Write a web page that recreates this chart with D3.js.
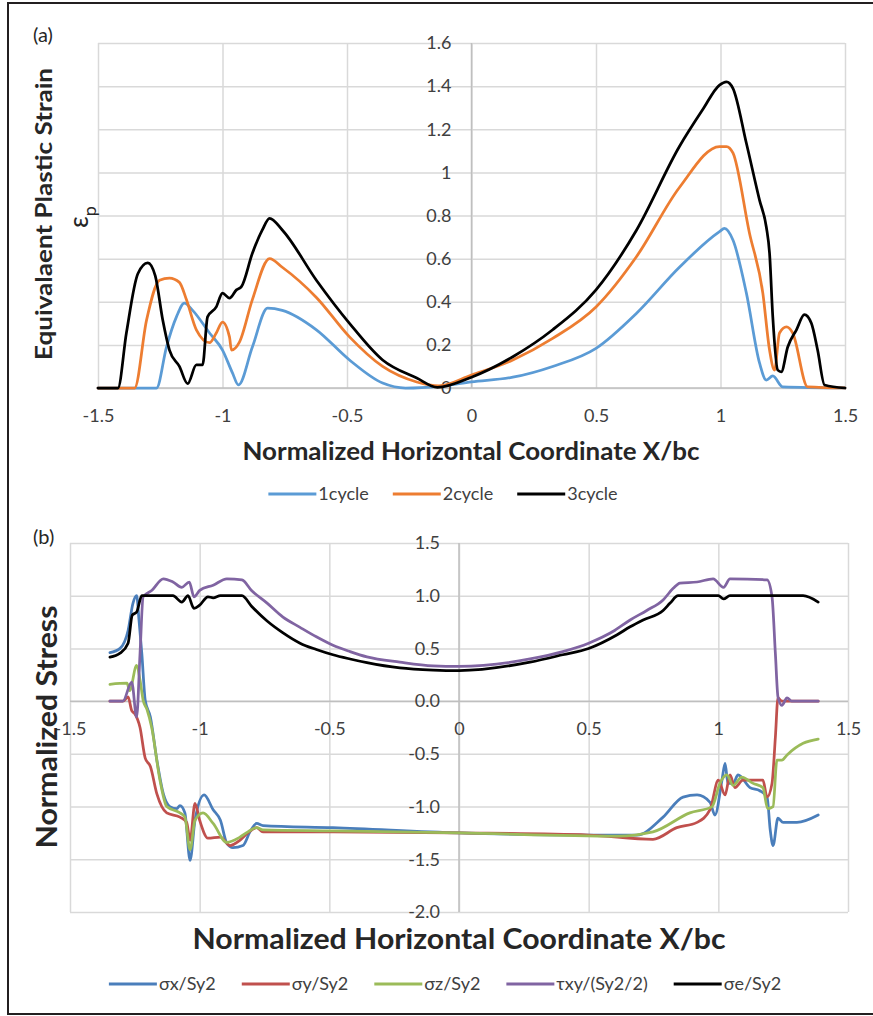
<!DOCTYPE html>
<html>
<head>
<meta charset="utf-8">
<script src="https://cdn.jsdelivr.net/npm/d3@7"></script>
<style>
body { margin: 0; background: #fff; }
svg { display: block; font-family: Lato, "Open Sans", sans-serif; }
.grid line { stroke: #d9d9d9; stroke-width: 1.5; }
.grid path { display: none; }
.ticks path, .ticks line { display: none; }
.ticks text { fill: #404040; font-size: 18px; font-family: Lato, sans-serif; }
.zero { stroke: #bfbfbf; stroke-width: 1.5; }
.series { fill: none; stroke-width: 2.75; stroke-linejoin: round; stroke-linecap: round; }
.legend text { fill: #404040; font-size: 18px; }
</style>
</head>
<body>
<div id="chart"></div>
<script>
// ---- panel (a): equivalent plastic strain ----
var xTicks = [-1.5, -1, -0.5, 0, 0.5, 1, 1.5]
var strainTicks = [0, 0.2, 0.4, 0.6, 0.8, 1, 1.2, 1.4, 1.6]
var strainNames = ['1cycle', '2cycle', '3cycle']

var cycle1X = [-1.5, -1.265, -1.225, -1.185, -1.153, -1.12, -1.052, -1.0, -0.96, -0.936, -0.88, -0.819, -0.76, -0.623, -0.49, -0.357, -0.265, -0.13, 0, 0.166, 0.326, 0.5, 0.663, 0.835, 0.996, 1.016, 1.05, 1.104, 1.157, 1.184, 1.21, 1.25, 1.5]
var cycle1Y = [0, 0, 0.19, 0.33, 0.394, 0.36, 0.255, 0.176, 0.07, 0.014, 0.19, 0.37, 0.36, 0.27, 0.13, 0.023, 0, 0.008, 0.028, 0.05, 0.1, 0.184, 0.347, 0.56, 0.725, 0.74, 0.686, 0.44, 0.115, 0.037, 0.056, 0.005, 0]

var cycle2X = [-1.5, -1.353, -1.305, -1.253, -1.213, -1.173, -1.145, -1.105, -1.052, -1.025, -1.0, -0.972, -0.964, -0.932, -0.88, -0.811, -0.76, -0.623, -0.49, -0.357, -0.22, -0.13, 0, 0.166, 0.326, 0.5, 0.663, 0.835, 0.996, 1.024, 1.05, 1.116, 1.17, 1.197, 1.217, 1.237, 1.265, 1.29, 1.35, 1.5]
var cycle2Y = [0, 0, 0.315, 0.5, 0.51, 0.49, 0.41, 0.27, 0.21, 0.255, 0.306, 0.237, 0.176, 0.213, 0.41, 0.6, 0.56, 0.42, 0.237, 0.1, 0.028, 0.01, 0.06, 0.13, 0.23, 0.376, 0.61, 0.93, 1.12, 1.12, 1.09, 0.72, 0.44, 0.176, 0.083, 0.255, 0.283, 0.255, 0.005, 0]

var cycle3X = [-1.5, -1.42, -1.386, -1.34, -1.30, -1.27, -1.24, -1.213, -1.173, -1.14, -1.105, -1.08, -1.06, -1.025, -1.0, -0.972, -0.944, -0.924, -0.88, -0.84, -0.811, -0.76, -0.623, -0.49, -0.357, -0.22, -0.137, 0, 0.166, 0.326, 0.5, 0.663, 0.835, 0.928, 0.996, 1.024, 1.05, 1.104, 1.157, 1.184, 1.197, 1.21, 1.23, 1.244, 1.27, 1.305, 1.337, 1.365, 1.39, 1.418, 1.5]
var cycle3Y = [0, 0, 0.255, 0.53, 0.58, 0.52, 0.315, 0.176, 0.1, 0.02, 0.107, 0.107, 0.33, 0.376, 0.44, 0.417, 0.455, 0.47, 0.625, 0.733, 0.787, 0.733, 0.5, 0.3, 0.13, 0.046, 0.003, 0.05, 0.145, 0.27, 0.455, 0.733, 1.12, 1.29, 1.405, 1.42, 1.39, 1.135, 0.87, 0.747, 0.625, 0.33, 0.083, 0.075, 0.19, 0.27, 0.34, 0.3, 0.176, 0.014, 0]

// ---- panel (b): normalized stress ----
var stressTicks = [-2, -1.5, -1, -0.5, 0, 0.5, 1, 1.5]
var stressNames = ['σx/Sy2', 'σy/Sy2', 'σz/Sy2', 'τxy/(Sy2/2)', 'σe/Sy2']

var sxX = [-1.346, -1.307, -1.276, -1.257, -1.243, -1.234, -1.223, -1.21, -1.19, -1.165, -1.14, -1.115, -1.088, -1.076, -1.057, -1.037, -1.018, -0.983, -0.948, -0.92, -0.895, -0.872, -0.833, -0.806, -0.78, -0.756, -0.486, 0, 0.5, 0.686, 0.787, 0.864, 0.918, 0.968, 0.987, 1.014, 1.026, 1.037, 1.057, 1.076, 1.122, 1.16, 1.188, 1.2, 1.211, 1.23, 1.25, 1.303, 1.385]
var sxY = [0.46, 0.5, 0.67, 0.93, 1.0, 0.77, 0.45, 0.01, -0.15, -0.56, -0.88, -1.0, -1.02, -0.99, -1.06, -1.51, -1.13, -0.89, -1.03, -1.13, -1.35, -1.39, -1.37, -1.24, -1.16, -1.18, -1.2, -1.25, -1.27, -1.27, -1.1, -0.91, -0.89, -0.96, -1.08, -0.75, -0.59, -0.78, -0.78, -0.7, -0.82, -0.85, -0.91, -1.22, -1.37, -1.11, -1.15, -1.15, -1.08]

var syX = [-1.346, -1.296, -1.276, -1.262, -1.25, -1.23, -1.21, -1.19, -1.165, -1.127, -1.076, -1.05, -1.037, -1.018, -1.0, -0.968, -0.92, -0.883, -0.845, -0.814, -0.78, -0.756, -0.486, 0, 0.5, 0.748, 0.84, 0.918, 0.968, 1.0, 1.026, 1.045, 1.064, 1.095, 1.172, 1.188, 1.207, 1.22, 1.23, 1.245, 1.385]
var syY = [0, 0, 0.04, -0.09, -0.12, -0.25, -0.54, -0.62, -0.88, -1.06, -1.1, -1.15, -1.32, -0.97, -1.13, -1.3, -1.29, -1.37, -1.32, -1.25, -1.2, -1.24, -1.24, -1.25, -1.27, -1.31, -1.2, -1.15, -1.03, -0.75, -0.89, -0.7, -0.82, -0.75, -0.75, -0.91, -0.78, -0.34, 0.03, 0, 0]

var szX = [-1.346, -1.28, -1.27, -1.243, -1.23, -1.218, -1.203, -1.185, -1.153, -1.127, -1.076, -1.057, -1.037, -1.018, -0.987, -0.948, -0.895, -0.845, -0.814, -0.78, -0.756, -0.486, 0, 0.61, 0.748, 0.89, 0.976, 1.006, 1.033, 1.057, 1.09, 1.134, 1.172, 1.19, 1.211, 1.226, 1.245, 1.265, 1.327, 1.385]
var szY = [0.16, 0.17, 0.1, 0.34, 0.2, 0.01, -0.08, -0.25, -0.75, -1.0, -1.06, -1.1, -1.41, -1.13, -1.06, -1.16, -1.34, -1.29, -1.24, -1.2, -1.22, -1.23, -1.25, -1.28, -1.24, -1.06, -1.0, -0.78, -0.7, -0.8, -0.72, -0.78, -0.82, -1.02, -1.0, -0.56, -0.56, -0.51, -0.4, -0.36]

var txyX = [-1.346, -1.296, -1.262, -1.243, -1.23, -1.218, -1.185, -1.14, -1.103, -1.069, -1.04, -1.022, -1.0, -0.948, -0.895, -0.837, -0.80, -0.74, -0.68, -0.613, -0.55, -0.486, -0.42, -0.355, -0.228, -0.1, 0, 0.274, 0.4, 0.5, 0.6, 0.66, 0.724, 0.787, 0.826, 0.852, 0.918, 0.98, 1.02, 1.045, 1.188, 1.207, 1.22, 1.23, 1.245, 1.265, 1.283, 1.385]
var txyY = [0, 0, 0.18, -0.15, 0.45, 0.99, 1.05, 1.16, 1.13, 1.08, 1.13, 0.99, 1.05, 1.1, 1.16, 1.15, 1.05, 0.93, 0.80, 0.70, 0.61, 0.53, 0.47, 0.42, 0.37, 0.335, 0.33, 0.40, 0.47, 0.55, 0.67, 0.77, 0.86, 0.96, 1.07, 1.12, 1.13, 1.16, 1.08, 1.16, 1.15, 0.99, 0.45, 0.04, -0.04, 0.03, 0, 0]

var seX = [-1.346, -1.307, -1.276, -1.26, -1.243, -1.223, -1.103, -1.069, -1.045, -1.022, -1.0, -0.968, -0.948, -0.92, -0.837, -0.80, -0.74, -0.68, -0.613, -0.55, -0.486, -0.42, -0.355, -0.228, -0.1, 0, 0.274, 0.4, 0.5, 0.61, 0.66, 0.71, 0.787, 0.814, 0.845, 1.0, 1.02, 1.045, 1.327, 1.385]
var seY = [0.417, 0.455, 0.55, 0.816, 0.845, 1.0, 1.0, 0.94, 1.0, 0.88, 0.91, 0.99, 0.98, 1.0, 1.0, 0.90, 0.76, 0.65, 0.55, 0.49, 0.44, 0.40, 0.365, 0.315, 0.295, 0.29, 0.37, 0.44, 0.5, 0.63, 0.705, 0.77, 0.86, 0.93, 1.0, 1.0, 0.97, 1.0, 1.0, 0.94]

var svg = d3.select('#chart')
	.append('svg')
	.attr('width', 873)
	.attr('height', 1016)

// figure frame (open on the right)
svg.append('path')
	.attr('d', 'M873,3H8V1014H873')
	.attr('fill', 'none')
	.attr('stroke', '#231f20')
	.attr('stroke-width', 2)

var drawPanel = function(opts) {

	var x = opts.x, y = opts.y
	var x0 = x.range()[0], x1 = x.range()[1]
	var yTop = y.range()[1], yBot = y.range()[0]
	var g = svg.append('g')

	// gridlines
	g.append('g')
		.attr('class', 'grid')
		.attr('transform', 'translate(0,' + yTop + ')')
		.call(d3.axisBottom(x).tickValues(opts.xTicks).tickSize(yBot - yTop).tickFormat(''))

	g.append('g')
		.attr('class', 'grid')
		.attr('transform', 'translate(' + x0 + ',0)')
		.call(d3.axisLeft(y).tickValues(opts.yTicks).tickSize(-(x1 - x0)).tickFormat(''))

	// axes through the origin
	g.append('line').attr('class', 'zero')
		.attr('x1', x0).attr('x2', x1)
		.attr('y1', y(0)).attr('y2', y(0))
	g.append('line').attr('class', 'zero')
		.attr('x1', x(0)).attr('x2', x(0))
		.attr('y1', yTop).attr('y2', yBot)

	// tick labels
	g.append('g')
		.attr('class', 'ticks')
		.attr('transform', 'translate(' + x(0) + ',0)')
		.call(d3.axisLeft(y).tickValues(opts.yTicks).tickSize(0).tickPadding(opts.yPad).tickFormat(opts.yFormat))
		.attr('font-family', null).attr('font-size', null)

	g.append('g')
		.attr('class', 'ticks')
		.attr('transform', 'translate(0,' + y(0) + ')')
		.call(d3.axisBottom(x).tickValues(opts.xTicks).tickSize(0).tickPadding(opts.xPad).tickFormat(function(d) { return String(d) }))
		.attr('font-family', null).attr('font-size', null)

	var line = d3.line()
		.x(function(d) { return x(d[0]) })
		.y(function(d) { return y(d[1]) })
		.curve(d3.curveMonotoneX)

	g.selectAll('.series')
		.data(opts.series)
		.enter()
		.append('path')
		.attr('class', 'series')
		.attr('stroke', function(d) { return d.color })
		.attr('d', function(d) { return line(d3.zip(d.xs, d.ys)) })

	// legend, centred on opts.legendX
	var leg = g.append('g').attr('class', 'legend')
	var items = leg.selectAll('g')
		.data(opts.series)
		.enter()
		.append('g')
	items.append('line')
		.attr('x1', 0).attr('x2', 48)
		.attr('stroke', function(d) { return d.color })
		.attr('stroke-width', 3)
	items.append('text')
		.attr('x', 50)
		.attr('dy', '0.35em')
		.text(function(d) { return d.name })

	var cursor = 0
	items.each(function() {
		var w = 50 + d3.select(this).select('text').node().getComputedTextLength()
		d3.select(this).attr('transform', 'translate(' + cursor + ',0)')
		cursor += w + opts.legendGap
	})
	var total = cursor - opts.legendGap
	leg.attr('transform', 'translate(' + (opts.legendX - total / 2) + ',' + opts.legendY + ')')
}

// ---- panel (a) ----
var xA = d3.scaleLinear().domain([-1.5, 1.5]).range([98, 845])
var yA = d3.scaleLinear().domain([0, 1.6]).range([388, 43])
var colorsA = ['#5b9bd5', '#ed7d31', '#000000']

drawPanel({
	x: xA, y: yA,
	xTicks: xTicks, yTicks: strainTicks,
	yPad: 20, xPad: 21,
	yFormat: function(d) { return String(d) },
	legendX: 443, legendY: 494, legendGap: 24,
	series: [
		{ name: strainNames[0], color: colorsA[0], xs: cycle1X, ys: cycle1Y },
		{ name: strainNames[1], color: colorsA[1], xs: cycle2X, ys: cycle2Y },
		{ name: strainNames[2], color: colorsA[2], xs: cycle3X, ys: cycle3Y }
	]
})

// ---- panel (b) ----
var xB = d3.scaleLinear().domain([-1.5, 1.5]).range([70, 848])
var yB = d3.scaleLinear().domain([-2, 1.5]).range([912, 543])
var colorsB = ['#4a7ebb', '#c0504d', '#9bbb59', '#8064a2', '#000000']

drawPanel({
	x: xB, y: yB,
	xTicks: xTicks, yTicks: stressTicks,
	yPad: 19, xPad: 21,
	yFormat: function(d) { return d.toFixed(1) },
	legendX: 445, legendY: 984, legendGap: 26,
	series: [
		{ name: stressNames[0], color: colorsB[0], xs: sxX, ys: sxY },
		{ name: stressNames[1], color: colorsB[1], xs: syX, ys: syY },
		{ name: stressNames[2], color: colorsB[2], xs: szX, ys: szY },
		{ name: stressNames[3], color: colorsB[3], xs: txyX, ys: txyY },
		{ name: stressNames[4], color: colorsB[4], xs: seX, ys: seY }
	]
})

// ---- titles and labels ----
var addText = function(str, x, y, size, opts) {
	opts = opts || {}
	var t = svg.append('text')
		.attr('x', x).attr('y', y)
		.attr('font-size', size)
		.attr('fill', '#262626')
		.attr('text-anchor', opts.anchor || 'start')
		.text(str)
	if (opts.bold) t.attr('font-weight', 'bold')
	if (opts.len) t.attr('textLength', opts.len).attr('lengthAdjust', 'spacingAndGlyphs')
	if (opts.rotate) t.attr('transform', 'rotate(-90,' + x + ',' + y + ')')
	return t
}

addText('(a)', 33, 42, 20)
addText('(b)', 33, 544, 20)

addText('Normalized Horizontal Coordinate X/bc', 471, 460, 25, { bold: true, anchor: 'middle', len: 457 })
addText('Normalized Horizontal Coordinate X/bc', 459, 949, 28, { bold: true, anchor: 'middle', len: 533 })

addText('Equivalaent Plastic Strain', 52, 214, 23, { bold: true, anchor: 'middle', len: 292, rotate: true })
addText('Normalized Stress', 57, 727, 28, { bold: true, anchor: 'middle', len: 243, rotate: true })

// epsilon_p symbol next to the strain axis title
var eps = svg.append('text')
	.attr('transform', 'translate(88,228) rotate(-90)')
	.attr('fill', '#262626')
	.attr('font-size', 26)
eps.append('tspan').text('ε')
eps.append('tspan').attr('dy', 8).attr('font-size', 18).text('p')
</script>
</body>
</html>
